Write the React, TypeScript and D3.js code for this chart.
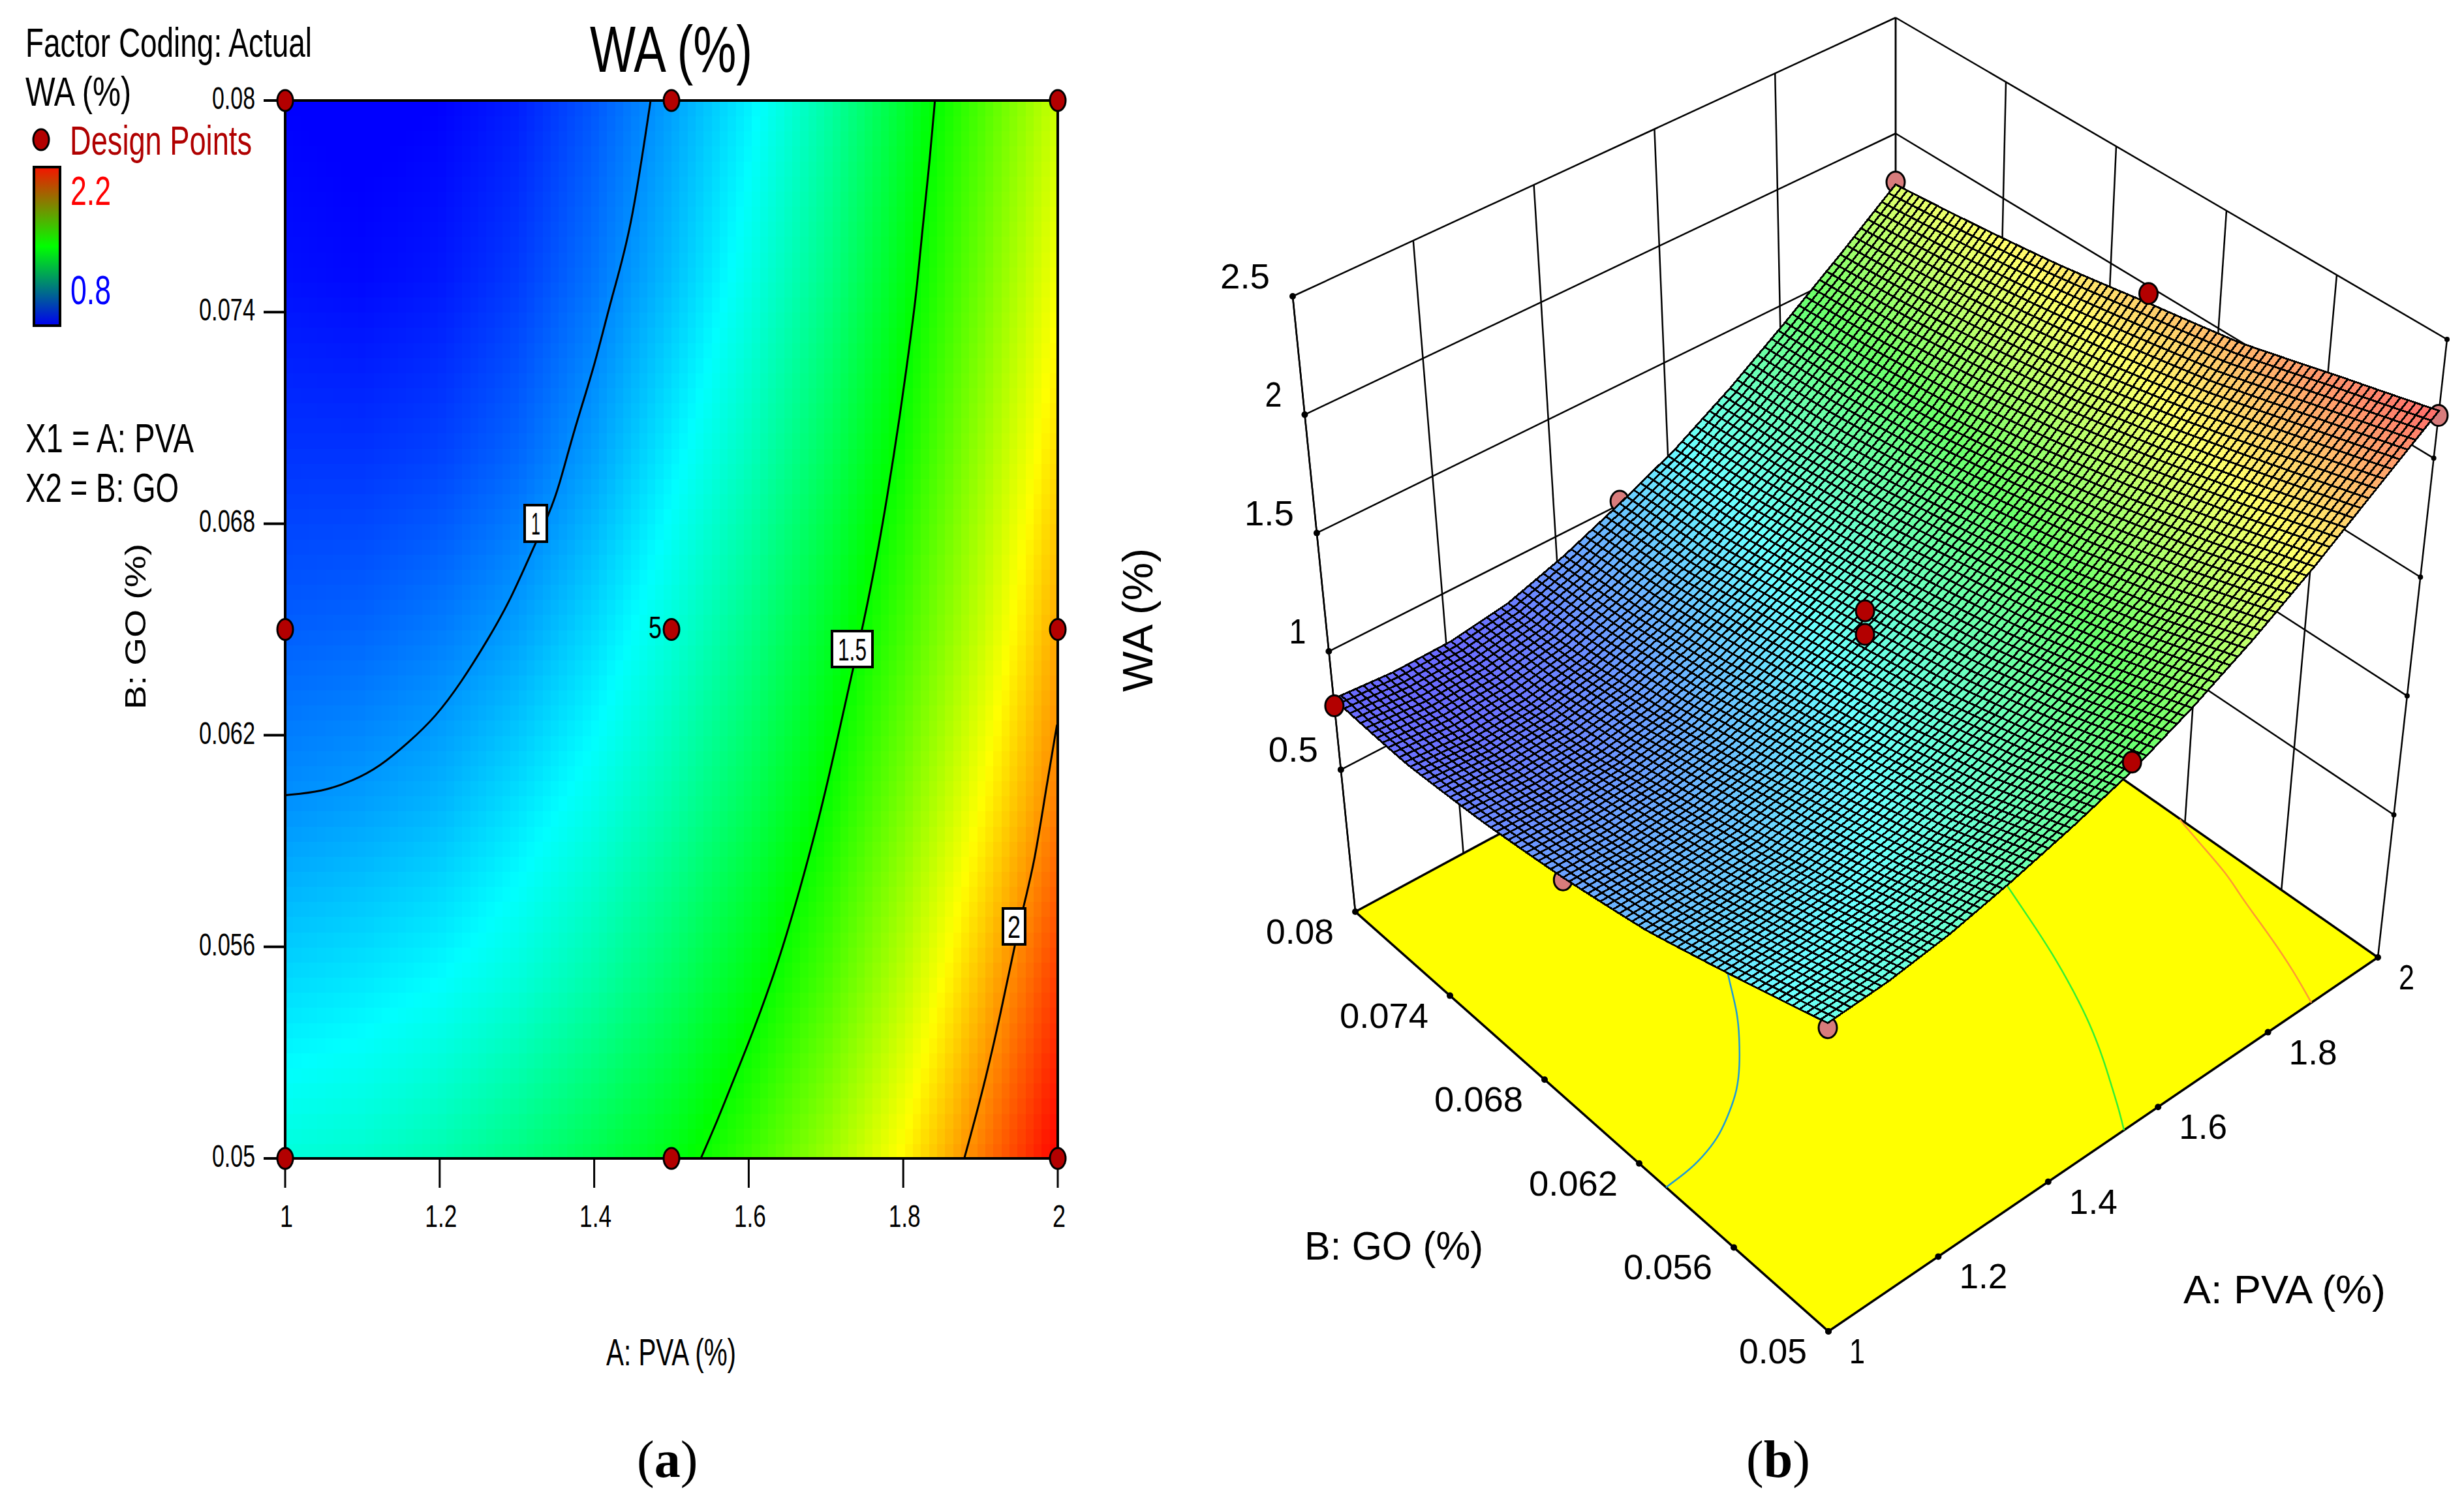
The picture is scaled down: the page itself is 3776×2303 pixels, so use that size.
import React from 'react';
import * as d3 from 'd3';

// Response, one row per GO level, one column per PVA level.
const PVA_LEVELS = [1, 1.1, 1.2, 1.3, 1.4, 1.5, 1.6, 1.7, 1.8, 1.9, 2];
const GO_LEVELS = [0.05, 0.055, 0.06, 0.065, 0.07, 0.075, 0.08];
const WA_GRID = [
  [1.2, 1.22, 1.26, 1.32, 1.39, 1.47, 1.58, 1.71, 1.86, 2.03, 2.2],
  [1.1, 1.12, 1.15, 1.2, 1.27, 1.36, 1.47, 1.6, 1.76, 1.94, 2.12],
  [1.0, 1.02, 1.05, 1.11, 1.18, 1.27, 1.38, 1.51, 1.67, 1.85, 2.03],
  [0.93, 0.94, 0.97, 1.02, 1.1, 1.2, 1.31, 1.44, 1.59, 1.77, 1.97],
  [0.87, 0.87, 0.89, 0.94, 1.02, 1.13, 1.24, 1.37, 1.52, 1.71, 1.9],
  [0.82, 0.81, 0.83, 0.88, 0.96, 1.06, 1.18, 1.31, 1.47, 1.65, 1.84],
  [0.8, 0.79, 0.8, 0.84, 0.92, 1.02, 1.13, 1.27, 1.43, 1.6, 1.78],
];

// Contour lines as [PVA, GO]
const CONTOUR_1 = [
  [1.473, 0.08], [1.447, 0.0762], [1.422, 0.0744], [1.401, 0.0725], [1.373, 0.0706], [1.354, 0.069],
  [1.34, 0.0682], [1.325, 0.0675], [1.291, 0.0658], [1.262, 0.0647], [1.228, 0.0635], [1.194, 0.0625],
  [1.16, 0.0618], [1.122, 0.0611], [1.087, 0.0607], [1.048, 0.0604], [1.0, 0.0603],
];
const CONTOUR_15 = [
  [1.841, 0.08], [1.833, 0.078], [1.825, 0.0764], [1.817, 0.0745], [1.806, 0.0727], [1.796, 0.0711],
  [1.781, 0.069], [1.768, 0.0673], [1.747, 0.065], [1.735, 0.0639], [1.717, 0.0621], [1.693, 0.0598],
  [1.666, 0.0576], [1.639, 0.0556], [1.606, 0.0536], [1.578, 0.0521], [1.56, 0.0511], [1.538, 0.05],
];
const CONTOUR_2 = [
  [1.999, 0.0623], [1.985, 0.0605], [1.97, 0.0584], [1.955, 0.0571], [1.944, 0.056], [1.925, 0.054],
  [1.904, 0.052], [1.879, 0.05],
];

// Design points as [PVA, GO, WA]
const DESIGN_POINTS = [
  [1, 0.08, 0.77], [1.5, 0.08, 1.03], [2, 0.08, 1.79],
  [1, 0.065, 0.92], [1.5, 0.065, 1.26], [1.5, 0.065, 1.36], [2, 0.065, 2.01],
  [1, 0.05, 1.18], [1.5, 0.05, 1.51], [2, 0.05, 2.18],
];
const HIDDEN_POINTS = ['1|0.05', '1|0.065', '1.5|0.08', '2|0.08', '2|0.05'];

const PVA_TICKS = [1, 1.2, 1.4, 1.6, 1.8, 2];
const GO_TICKS = [0.05, 0.056, 0.062, 0.068, 0.074, 0.08];
const WA_TICKS = [0.5, 1, 1.5, 2, 2.5];
const WA_STOPS = [0.8, 1.15, 1.5, 1.85, 2.2];
const WA_COLORS = ['#0000ff', '#00ffff', '#00ff00', '#ffff00', '#ff0000'];

const SANS = '"Liberation Sans", Arial, sans-serif';
const RED = '#b30000';

const xScale = d3.scaleLinear().domain([1, 2]).range([437, 1621]);
const yScale = d3.scaleLinear().domain([0.05, 0.08]).range([1775, 154]);
const heat = d3.scaleLinear<string>().domain(WA_STOPS).range(WA_COLORS).clamp(true);

const smooth = d3.line().curve(d3.curveBasis);

// screen corners of the 3d box, floor and z=2.5 plane, [a,b] = scaled PVA, GO
const FLOOR = { p00: [2802, 2040], p10: [3644, 1467], p01: [2077, 1397], p11: [2905, 950] };
const ROOF = { p00: [2800, 1095], p10: [3750, 520], p01: [1981, 454], p11: [2905, 27] };
const aScale = d3.scaleLinear().domain([1, 2]).range([0, 1]);
const bScale = d3.scaleLinear().domain([0.05, 0.08]).range([0, 1]);
const zScale = d3.scaleLinear().domain([-0.1, 2.5]).range([0, 1]);

const bilin = (q: any, a: number, b: number) =>
  [0, 1].map(k =>
    (1 - a) * (1 - b) * q.p00[k] + a * (1 - b) * q.p10[k] + (1 - a) * b * q.p01[k] + a * b * q.p11[k]
  );

const project = (pva: number, go: number, wa: number): [number, number] => {
  const a = aScale(pva);
  const b = bScale(go);
  const t = zScale(wa);
  const f = bilin(FLOOR, a, b);
  const r = bilin(ROOF, a, b);
  return [f[0] + (r[0] - f[0]) * t, f[1] + (r[1] - f[1]) * t];
};

// the surface edges bow a little in the original's perspective, centre and corners stay put
const projectSurface = (pva: number, go: number, wa: number): [number, number] => {
  const a = aScale(pva);
  const b = bScale(go);
  const p = project(pva, go, wa);
  const bow = -100 * b * (1 - b) * (2 * a - 1) ** 2 + 48 * a * (1 - a) * (2 * b - 1) ** 2;
  return [p[0] + bow, p[1]];
};

// Reads the typed grid at any spot between its nodes, only to shade the continuous
// surface finer than the grid. The values themselves are the ones in WA_GRID.
const waAt = (pva: number, go: number) => {
  const i = Math.min(d3.bisectRight(PVA_LEVELS, pva) - 1, PVA_LEVELS.length - 2);
  const j = Math.min(d3.bisectRight(GO_LEVELS, go) - 1, GO_LEVELS.length - 2);
  const u = (pva - PVA_LEVELS[i]) / (PVA_LEVELS[i + 1] - PVA_LEVELS[i]);
  const v = (go - GO_LEVELS[j]) / (GO_LEVELS[j + 1] - GO_LEVELS[j]);
  const low = d3.interpolateNumber(WA_GRID[j][i], WA_GRID[j][i + 1])(u);
  const high = d3.interpolateNumber(WA_GRID[j + 1][i], WA_GRID[j + 1][i + 1])(u);
  return d3.interpolateNumber(low, high)(v);
};

const Label = ({ x, y, size, len, fill = '#000', anchor = 'start', rotate = false, children }: any) => (
  <text
    x={x}
    y={y}
    fontSize={size}
    fontFamily={SANS}
    fill={fill}
    textAnchor={anchor}
    textLength={len}
    lengthAdjust="spacingAndGlyphs"
    transform={rotate ? `rotate(-90 ${x} ${y})` : undefined}
  >
    {children}
  </text>
);

const Dot = ({ x, y, fill = RED, rx = 12, ry = 16 }: any) => (
  <ellipse cx={x} cy={y} rx={rx} ry={ry} fill={fill} stroke="#000" strokeWidth={3} />
);

const ContourBox = ({ x0, x1, y0, y1, len, children }: any) => (
  <g>
    <rect x={x0} y={y0} width={x1 - x0} height={y1 - y0} fill="#fff" stroke="#000" strokeWidth={4} />
    <Label x={(x0 + x1) / 2} y={(y0 + y1) / 2 + 17} size={48} len={len} anchor="middle">
      {children}
    </Label>
  </g>
);

const ContourPanel = () => {
  const cols = 96;
  const rows = 70;
  const cells = d3.range(cols).flatMap(i =>
    d3.range(rows).map(j => ({ i, j, wa: waAt(1 + (i + 0.5) / cols, 0.05 + (0.03 * (j + 0.5)) / rows) }))
  );
  const w = (xScale(2) - xScale(1)) / cols;
  const h = (yScale(0.05) - yScale(0.08)) / rows;
  const toXY = (c: number[][]) => c.map(d => [xScale(d[0]), yScale(d[1])] as [number, number]);
  return (
    <g>
      <g shapeRendering="crispEdges">
        {cells.map(c => (
          <rect
            key={c.i + '-' + c.j}
            x={xScale(1) + c.i * w}
            y={yScale(0.08) + (rows - 1 - c.j) * h}
            width={w + 1}
            height={h + 1}
            fill={heat(c.wa)}
          />
        ))}
      </g>
      {[CONTOUR_1, CONTOUR_15, CONTOUR_2].map((c, i) => (
        <path key={i} d={smooth(toXY(c)) as string} fill="none" stroke="#000" strokeWidth={3} />
      ))}
      <rect x={437} y={154} width={1184} height={1621} fill="none" stroke="#000" strokeWidth={4} />
      {PVA_TICKS.map(t => (
        <g key={t}>
          <line x1={xScale(t)} x2={xScale(t)} y1={1775} y2={1820} stroke="#000" strokeWidth={3} />
          <Label x={xScale(t) + 2} y={1880} size={48} len={String(t).length > 1 ? 49 : 20} anchor="middle">
            {t}
          </Label>
        </g>
      ))}
      {GO_TICKS.map(t => (
        <g key={t}>
          <line x1={404} x2={437} y1={yScale(t)} y2={yScale(t)} stroke="#000" strokeWidth={4} />
          <Label x={391} y={yScale(t) + 13} size={48} len={String(t).length > 4 ? 86 : 66} anchor="end">
            {t}
          </Label>
        </g>
      ))}
      <ContourBox x0={804} x1={838} y0={774} y1={830} len={14}>1</ContourBox>
      <ContourBox x0={1275} x1={1337} y0={967} y1={1022} len={44}>1.5</ContourBox>
      <ContourBox x0={1537} x1={1571} y0={1392} y1={1447} len={20}>2</ContourBox>
      {[1, 1.5, 2].flatMap(a =>
        [0.05, 0.065, 0.08].map(b => <Dot key={a + '-' + b} x={xScale(a)} y={yScale(b)} />)
      )}
      <Label x={994} y={978} size={48} len={20}>5</Label>
      <Label x={904} y={110} size={100} len={249}>WA (%)</Label>
      <Label x={929} y={2092} size={57} len={199}>A: PVA (%)</Label>
      <Label x={223} y={1087} size={44} len={254} rotate>B: GO (%)</Label>
      <Label x={39} y={87} size={63} len={439}>Factor Coding: Actual</Label>
      <Label x={39} y={162} size={63} len={162}>WA (%)</Label>
      <Dot x={63} y={214} />
      <Label x={107} y={237} size={63} len={279} fill="#b00000">Design Points</Label>
      <rect x={52} y={256} width={40} height={243} fill="url(#legendRamp)" stroke="#000" strokeWidth={4} />
      <Label x={108} y={314} size={63} len={62} fill="#ff0000">2.2</Label>
      <Label x={108} y={466} size={63} len={62} fill="#0000ff">0.8</Label>
      <Label x={39} y={693} size={63} len={258}>X1 = A: PVA</Label>
      <Label x={39} y={769} size={63} len={235}>X2 = B: GO</Label>
    </g>
  );
};

const SurfacePanel = () => {
  const n = 80;
  const walls: [number, number, number, number, number, number][] = [];
  PVA_TICKS.forEach(t => walls.push([t, 0.08, -0.1, t, 0.08, 2.5]));
  GO_TICKS.forEach(t => walls.push([2, t, -0.1, 2, t, 2.5]));
  WA_TICKS.forEach(z => {
    walls.push([1, 0.08, z, 2, 0.08, z]);
    walls.push([2, 0.08, z, 2, 0.05, z]);
  });
  walls.push([1, 0.08, -0.1, 1, 0.08, 2.5]);

  const quadPath = (pts: [number, number][]) => d3.line()(pts) + 'Z';
  const floorPath = quadPath([
    project(1, 0.05, -0.1),
    project(2, 0.05, -0.1),
    project(2, 0.08, -0.1),
    project(1, 0.08, -0.1),
  ]);

  const quads = [];
  for (let i = n - 1; i >= 0; i--) {
    for (let j = n - 1; j >= 0; j--) {
      const a0 = 1 + i / n;
      const a1 = 1 + (i + 1) / n;
      const b0 = 0.05 + (0.03 * j) / n;
      const b1 = 0.05 + (0.03 * (j + 1)) / n;
      const mean = (waAt(a0, b0) + waAt(a1, b0) + waAt(a1, b1) + waAt(a0, b1)) / 4;
      quads.push({
        key: i + '-' + j,
        d: quadPath([
          projectSurface(a0, b0, waAt(a0, b0)),
          projectSurface(a1, b0, waAt(a1, b0)),
          projectSurface(a1, b1, waAt(a1, b1)),
          projectSurface(a0, b1, waAt(a0, b1)),
        ]),
        fill: d3.interpolateRgb(heat(mean), '#ffffff')(0.42),
      });
    }
  }

  const isHidden = (d: number[]) => HIDDEN_POINTS.includes(d[0] + '|' + d[1]);
  const floorContour = (c: number[][]) => smooth(c.map(d => project(d[0], d[1], -0.1))) as string;

  return (
    <g>
      {walls.map((w, i) => {
        const p = project(w[0], w[1], w[2]);
        const q = project(w[3], w[4], w[5]);
        return <line key={i} x1={p[0]} y1={p[1]} x2={q[0]} y2={q[1]} stroke="#000" strokeWidth={2.5} />;
      })}
      <path d={floorPath} fill="#ffff00" stroke="#000" strokeWidth={3.5} />
      <path d={floorContour(CONTOUR_1)} fill="none" stroke="#1e9ad6" strokeWidth={2.5} />
      <path d={floorContour(CONTOUR_15)} fill="none" stroke="#33f033" strokeWidth={2.5} />
      <path d={floorContour(CONTOUR_2)} fill="none" stroke="#ff9933" strokeWidth={2.5} />
      {PVA_TICKS.map(t => {
        const p = project(t, 0.05, -0.1);
        return (
          <g key={t}>
            <circle cx={p[0]} cy={p[1]} r={5} fill="#000" />
            <Label x={p[0] + 32} y={p[1] + 49} size={54} len={String(t).length > 1 ? 74 : 24}>{t}</Label>
          </g>
        );
      })}
      {GO_TICKS.map(t => {
        const p = project(1, t, -0.1);
        return (
          <g key={t}>
            <circle cx={p[0]} cy={p[1]} r={5} fill="#000" />
            <Label x={p[0] - 33} y={p[1] + 49} size={54} len={String(t).length > 4 ? 136 : 104} anchor="end">{t}</Label>
          </g>
        );
      })}
      {WA_TICKS.map(t => {
        const p = project(1, 0.08, t);
        const q = project(2, 0.05, t);
        return (
          <g key={t}>
            <circle cx={p[0]} cy={p[1]} r={5} fill="#000" />
            <circle cx={q[0]} cy={q[1]} r={4} fill="#000" />
            <Label x={p[0] - 35} y={p[1] - 12} size={54} len={String(t).length > 1 ? 76 : 26} anchor="end">{t}</Label>
          </g>
        );
      })}
      {DESIGN_POINTS.filter(isHidden).map((d, i) => {
        const p = projectSurface(d[0], d[1], d[2]);
        return <Dot key={i} x={p[0]} y={p[1]} fill="#d87c7c" rx={14} ry={16} />;
      })}
      <g stroke="#000" strokeWidth={2.9} shapeRendering="crispEdges">
        {quads.map(q => (
          <path key={q.key} d={q.d} fill={q.fill} />
        ))}
      </g>
      {DESIGN_POINTS.filter(d => !isHidden(d)).map((d, i) => {
        const p = projectSurface(d[0], d[1], d[2]);
        return <Dot key={i} x={p[0]} y={p[1]} rx={14} ry={16} />;
      })}
      <Label x={1999} y={1930} size={62} len={274}>B: GO (%)</Label>
      <Label x={3346} y={1997} size={62} len={310}>A: PVA (%)</Label>
      <Label x={1766} y={1060} size={64} len={220} rotate>WA (%)</Label>
    </g>
  );
};

const PanelLetter = ({ x, letter }: any) => (
  <text x={x} y={2263} fontSize={80} fontFamily='"Liberation Serif", serif'>
    (<tspan fontWeight="bold">{letter}</tspan>)
  </text>
);

export default function App() {
  return (
    <svg
      width={3776}
      height={2303}
      viewBox="0 0 3776 2303"
      style={{ position: 'absolute', left: 0, top: 0, background: '#fff' }}
    >
      <defs>
        <linearGradient id="legendRamp" x1="0" x2="0" y1="0" y2="1">
          <stop offset="0" stopColor="#f51400" />
          <stop offset="0.5" stopColor="#00ff00" />
          <stop offset="1" stopColor="#0000f0" />
        </linearGradient>
      </defs>
      <ContourPanel />
      <SurfacePanel />
      <PanelLetter x={976} letter="a" />
      <PanelLetter x={2676} letter="b" />
    </svg>
  );
}
